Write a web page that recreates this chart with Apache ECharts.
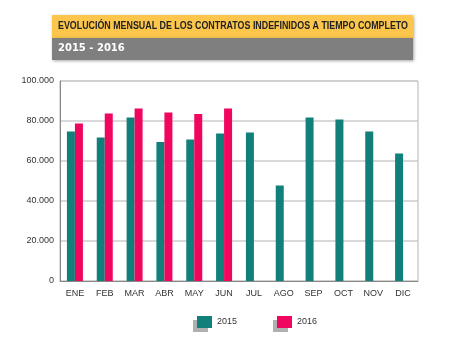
<!DOCTYPE html>
<html><head><meta charset="utf-8">
<script src="https://cdn.jsdelivr.net/npm/echarts@6/dist/echarts.min.js"></script>
<style>html,body{margin:0;padding:0;background:#fff}#c{width:459px;height:350px}</style>
</head><body><div id="c"></div>
<script>
var categories = ['ENE','FEB','MAR','ABR','MAY','JUN','JUL','AGO','SEP','OCT','NOV','DIC'];
var values2015 = [74700, 71700, 81800, 69500, 70800, 73700, 74300, 47800, 81700, 80800, 74800, 63800];
var values2016 = [78800, 83800, 86200, 84300, 83500, 86300, null, null, null, null, null, null];
var seriesNames = ['2015', '2016'];
var titleText = 'EVOLUCIÓN MENSUAL DE LOS CONTRATOS INDEFINIDOS A TIEMPO COMPLETO';
var subtitleText = '2015 - 2016';

var chart = echarts.init(document.getElementById('c'));
var titleFont = 'bold 11px "Liberation Sans", Arial, sans-serif';
var tw = echarts.format.getTextRect ? echarts.format.getTextRect(titleText, titleFont).width : 0;
var ctx = document.createElement('canvas').getContext('2d');
ctx.font = titleFont;
tw = ctx.measureText(titleText).width;
var sx = 350 / tw;
chart.setOption({
  animation: false,
  backgroundColor: '#fff',
  graphic: [
    {type:'rect', shape:{x:52,y:15,width:361,height:23}, style:{fill:'#fbc64b', shadowColor:'rgba(0,0,0,0.35)', shadowBlur:3, shadowOffsetX:1, shadowOffsetY:1}},
    {type:'rect', shape:{x:52,y:38,width:361,height:22}, style:{fill:'#7f7f7f', shadowColor:'rgba(0,0,0,0.35)', shadowBlur:3, shadowOffsetX:1, shadowOffsetY:1}},
    {type:'text', x:58, y:20, scaleX:sx, style:{text:titleText, fill:'#222', font:titleFont}},
    {type:'text', x:58, y:43, style:{text:subtitleText, fill:'#fff', font:'bold 10px "DejaVu Sans", sans-serif'}}
  ],
  grid: {left:60, top:81, right:41, bottom:69, show:true, borderColor:'#b5b5b5', borderWidth:1},
  legend: {
    data: seriesNames, bottom: 17, left: 192, itemWidth: 15, itemHeight: 12, itemGap: 40, icon:'rect',
    textStyle: {fontSize: 9, color:'#333', fontFamily:'Arial, Liberation Sans, sans-serif'},
    itemStyle: {shadowColor:'#b0b0b0', shadowBlur:0, shadowOffsetX:-4, shadowOffsetY:4}
  },
  xAxis: {
    type:'category', data: categories,
    axisLine:{lineStyle:{color:'#888', width:1}},
    axisTick:{show:false},
    axisLabel:{color:'#333', fontSize:9, margin:8, fontFamily:'Arial, Liberation Sans, sans-serif'}
  },
  yAxis: {
    type:'value', min:0, max:100000, interval:20000,
    axisLine:{show:true, lineStyle:{color:'#888'}},
    axisTick:{show:false},
    splitLine:{lineStyle:{color:'#cccccc', width:1.5}},
    axisLabel:{color:'#333', fontSize:9, margin:6, fontFamily:'Arial, Liberation Sans, sans-serif',
      formatter:function(v){ return v === 0 ? '0' : (v/1000).toFixed(0) + '.000'; }}
  },
  series: [
    {name:seriesNames[0], type:'bar', data:values2015, barWidth:8, barGap:'0%', itemStyle:{color:'#12807a'}},
    {name:seriesNames[1], type:'bar', data:values2016, barWidth:8, barGap:'0%', itemStyle:{color:'#f0055f'}}
  ]
});
</script></body></html>
